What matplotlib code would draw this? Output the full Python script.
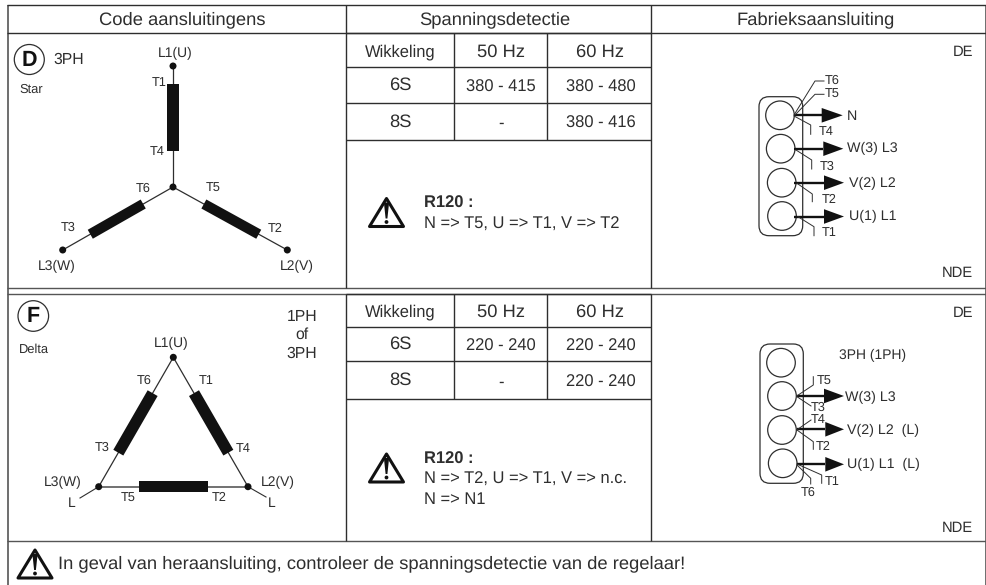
# -*- coding: utf-8 -*-
import numpy as np
import matplotlib
matplotlib.use('Agg')
import matplotlib.pyplot as plt
from matplotlib.patches import Circle, FancyBboxPatch, Polygon

plt.rcParams['font.family'] = ['Liberation Sans', 'DejaVu Sans']
plt.rcParams['text.hinting'] = 'no_hinting'

#%% table contents

col_titles = ['Code aansluitingens', 'Spanningsdetectie', 'Fabrieksaansluiting']
volt_head = ['Wikkeling', '50 Hz', '60 Hz']
star_rows = [['6S', '380 - 415', '380 - 480'], ['8S', '-', '380 - 416']]
delta_rows = [['6S', '220 - 240', '220 - 240'], ['8S', '-', '220 - 240']]
star_note = ['N => T5, U => T1, V => T2']
delta_note = ['N => T2, U => T1, V => n.c.', 'N => N1']
warning = 'In geval van heraansluiting, controleer de spanningsdetectie van de regelaar!'

ink = '#2e2e2e'
black = '#111111'

fig = plt.figure(figsize=(9.87, 5.85), dpi=100)
ax = fig.add_axes([0, 0, 1, 1])
ax.set_xlim(0, 987)
ax.set_ylim(585, 0)
ax.axis('off')


def hline(y, x0, x1, lw=1.0, c=ink):
    ax.plot([x0, x1], [y, y], color=c, lw=lw, solid_capstyle='butt')


def vline(x, y0, y1, lw=1.0, c=ink):
    ax.plot([x, x], [y0, y1], color=c, lw=lw, solid_capstyle='butt')


def txt(x, y, s, size=9, ha='center', **kw):
    ax.text(x, y, s, fontsize=size, ha=ha, va='center', color=ink, **kw)


def coil(p0, p1, start, stop, width=11.5, wire=0.9, wire_c=ink):
    # wire from p0 to p1 with a thick winding between the fractions start and stop
    p0 = np.array(p0, float)
    p1 = np.array(p1, float)
    ax.plot([p0[0], p1[0]], [p0[1], p1[1]], color=wire_c, lw=wire, zorder=2)
    a = p0 + (p1 - p0) * start
    b = p0 + (p1 - p0) * stop
    n = (p1 - p0)[::-1] * [1, -1]
    n = n / np.hypot(*n) * width / 2
    ax.add_patch(Polygon([a + n, b + n, b - n, a - n], color=black, lw=0, zorder=3))


def dot(x, y, r=3.5):
    ax.add_patch(Circle((x, y), r, color=black, lw=0, zorder=4))


def badge(x, y, letter, r=15):
    ax.add_patch(Circle((x, y), r, fc='white', ec=ink, lw=0.9))
    ax.text(x, y + 0.5, letter, fontsize=15.5, fontweight='bold', ha='center', va='center', color=black)


def warn(x, y):
    # warning triangle, x,y is the centre of the base
    ax.add_patch(Polygon([(x - 17, y), (x + 17, y), (x, y - 28)], closed=True, fc='white',
                         ec=black, lw=2.2, joinstyle='round'))
    ax.add_patch(Polygon([(x - 2.6, y - 24), (x + 2.6, y - 24), (x + 0.9, y - 8), (x - 0.9, y - 8)],
                         color=black, lw=0))
    ax.add_patch(Circle((x, y - 4.5), 1.9, color=black, lw=0))


def volt_table(lines, rows, note, note_y, head_dy):
    for y in lines:
        hline(y, 346, 651)
    vline(454, lines[0], lines[-1])
    vline(547, lines[0], lines[-1])
    mid = [400.5, 501, 600.5]
    for x, s in zip(mid, volt_head):
        txt(x, (lines[0] + lines[1]) / 2 + head_dy, s, size=11.9 if s == 'Wikkeling' else 13.2)
    for i, row in enumerate(rows):
        yc = (lines[i + 1] + lines[i + 2]) / 2
        txt(mid[0], yc + 0.5, row[0], size=13.2)
        txt(mid[1], yc + 2, row[1], size=11.9)
        txt(mid[2], yc + 2, row[2], size=11.9)
    warn(386.5, note_y + 23)
    ax.text(423.5, note_y, 'R120 :', fontsize=11.9, fontweight='bold', ha='left', va='center', color=ink)
    for i, s in enumerate(note):
        txt(423.5, note_y + 20.5 * (i + 1), s, size=11.9, ha='left')


def terminals(cx, cy, bx0, by0, bx1, by1):
    ax.add_patch(FancyBboxPatch((bx0 + 10, by0 + 10), bx1 - bx0 - 20, by1 - by0 - 20,
                                boxstyle='round,pad=10,rounding_size=10', fc='none', ec=ink, lw=0.9))
    for x, y in zip(cx, cy):
        ax.add_patch(Circle((x, y), 14.3, fc='white', ec=ink, lw=0.9, zorder=3))


def arrow(x0, y, x1, x2):
    ax.plot([x0, x1], [y, y], color=black, lw=1.7, zorder=4, solid_capstyle='butt')
    ax.add_patch(Polygon([(x1, y - 7.3), (x2, y), (x1, y + 7.3)], color=black, lw=0, zorder=4))


def lead(points):
    xs, ys = zip(*points)
    ax.plot(xs, ys, color=ink, lw=0.7, zorder=4)


#%% frame

vline(7.5, 4.5, 585, lw=1.2, c='#555555')
vline(985.5, 4.5, 585, lw=1.2, c='#555555')
hline(4.5, 7, 986)
hline(33, 7, 986)
hline(288, 7, 986, c='#555555')
hline(294, 7, 986, c='#555555')
hline(541, 7, 986, c='#555555')
vline(345.5, 4.5, 288)
vline(345.5, 294, 541)
vline(651, 4.5, 288)
vline(651, 294, 541)
for x, s in zip([182, 495, 816], col_titles):
    txt(x, 19.5, s, size=13.2)

#%% star diagram

badge(29.3, 59.5, 'D')
txt(53.3, 59.5, '3PH', size=11.3, ha='left')
txt(19, 90, 'Star', size=9.3, ha='left')
centre = (173, 187)
coil((173, 66), centre, 0.15, 0.70)
coil((287.3, 250), centre, 0.25, 0.73, width=10.3)
coil((62.7, 250), centre, 0.25, 0.73, width=10.3)
for x, y in [(173, 66), centre, (287.3, 250), (62.7, 250)]:
    dot(x, y)
for x, y, s, sz in [(175, 53, 'L1(U)', 10), (158.7, 83, 'T1', 9.2), (156.7, 151.7, 'T4', 9.2),
                    (142.7, 189, 'T6', 9.2), (212.7, 189, 'T5', 9.2), (67.7, 228, 'T3', 9.2),
                    (275, 229, 'T2', 9.2), (56.7, 266.5, 'L3(W)', 10), (296.7, 266, 'L2(V)', 10)]:
    txt(x, y, s, size=sz)

#%% delta diagram

badge(33.3, 316, 'F', r=15.3)
txt(19, 349.5, 'Delta', size=9.3, ha='left')
for y, s in zip([317, 335, 354], ['1PH', 'of', '3PH']):
    txt(301.7, y, s, size=11.3)
top = (173.3, 357.3)
right = (248, 486.7)
left = (98.7, 486.7)
coil(top, right, 0.277, 0.737)
coil(top, left, 0.277, 0.737)
coil(left, right, 0.27, 0.73, wire=1.3, wire_c='#666666')
for x, y in [top, right, left]:
    dot(x, y)
ax.plot([left[0], 80], [left[1], 498], color=ink, lw=0.8)
ax.plot([right[0], 266], [right[1], 497], color=ink, lw=0.8)
for x, y, s, sz in [(171.7, 343.3, 'L1(U)', 10), (144, 381, 'T6', 9.2), (205.7, 381, 'T1', 9.2),
                    (101.7, 448, 'T3', 9.2), (243, 448.7, 'T4', 9.2), (62.7, 482.7, 'L3(W)', 10),
                    (278, 482.3, 'L2(V)', 10), (127.7, 499, 'T5', 9.2), (219, 498, 'T2', 9.2),
                    (72, 503, 'L', 10), (272, 503, 'L', 10)]:
    txt(x, y, s, size=sz)

#%% voltage tables

volt_table([33, 67, 103, 140], star_rows, star_note, 203.5, 2.5)
volt_table([294, 327, 361, 399], delta_rows, delta_note, 459, 1.5)

#%% factory connection, star

txt(973, 52, 'DE', size=10.6, ha='right')
txt(973, 272.7, 'NDE', size=10.6, ha='right')
terminals([780, 780.7, 781.7, 782], [115.3, 148.7, 182.7, 216], 759, 96.7, 802.7, 235.7)
for y, xa, xb in zip([115.3, 148.7, 182.7, 216.5], [821.7, 823.3, 824, 824], [842.7, 843.3, 844, 844]):
    arrow(794, y, xa, xb)
for x, y, s in zip([846.7, 846.7, 849.3, 848.7], [116, 148.3, 183.3, 216.7], ['N', 'W(3) L3', 'V(2) L2', 'U(1) L1']):
    txt(x, y, s, size=10.3, ha='left')
lead([(794, 115), (815, 81), (824, 81)])
lead([(795, 115), (815, 94.3), (824, 94.3)])
lead([(794, 116), (810.7, 125), (810.7, 134.3)])
lead([(796, 150), (811.7, 160), (811.7, 169)])
lead([(797, 183.3), (812.3, 194), (812.3, 201.7)])
lead([(798, 216.7), (814, 226.7), (814, 235.7)])
for x, y, s in [(831.7, 81, 'T6'), (831.7, 95, 'T5'), (826, 131.7, 'T4'), (827, 166.7, 'T3'),
                (829.3, 199.3, 'T2'), (829.3, 232.7, 'T1')]:
    txt(x, y, s, size=9.2)

#%% factory connection, delta

txt(973, 313.3, 'DE', size=10.6, ha='right')
txt(973, 527.7, 'NDE', size=10.6, ha='right')
terminals([781, 782, 782, 782.7], [362.7, 396, 430, 463.3], 760, 344, 803.3, 483.3)
for y, xa in zip([396, 429.3, 464.3], [824, 825.3, 825.3]):
    arrow(796.7, y, xa, 844)
for x, y, s in zip([845.3, 846.7, 846.7], [397.3, 430.7, 464], ['W(3) L3', 'V(2) L2  (L)', 'U(1) L1  (L)']):
    txt(x, y, s, size=10.3, ha='left')
txt(839, 355.7, '3PH (1PH)', size=10, ha='left')
lead([(796.7, 396), (813.3, 385), (813.3, 376.7)])
lead([(796.7, 396.5), (811, 406)])
lead([(796.7, 430), (811, 420)])
lead([(797, 430), (813.3, 441.7), (813.3, 449.3)])
lead([(797, 464), (821.7, 475), (821.7, 483.3)])
lead([(797, 465), (810.7, 478.3), (810.7, 484)])
for x, y, s in [(824, 381.7, 'T5'), (817.7, 407.7, 'T3'), (817.7, 419.3, 'T4'), (823.3, 446.7, 'T2'),
                (831.7, 481.7, 'T1'), (807.7, 492.3, 'T6')]:
    txt(x, y, s, size=9.2)

#%% bottom warning

warn(35, 578)
txt(58, 564, warning, size=13.2, ha='left')

fig.savefig('out.png', dpi=100)
